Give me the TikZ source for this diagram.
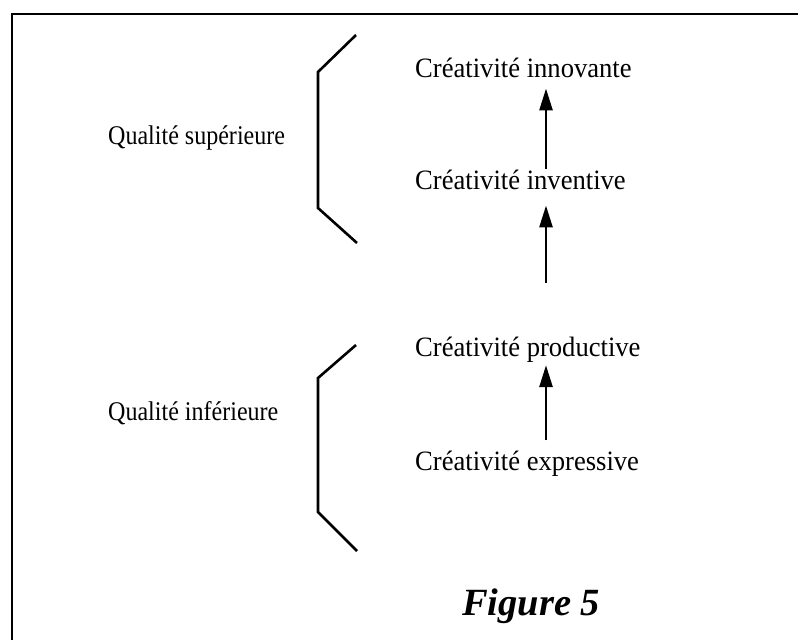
\documentclass[tikz,border=0pt]{standalone}
\usepackage{fontspec}
\setmainfont{Liberation Serif}
\newfontfamily\crfont[FakeStretch=0.95]{Liberation Serif}
\newfontfamily\qfont[FakeStretch=0.89]{Liberation Serif}
\usetikzlibrary{arrows.meta}
\begin{document}
\begin{tikzpicture}[x=1pt,y=-1pt,
  lbl/.style={inner sep=0pt,anchor=base west,font=\crfont\fontsize{28}{30}\selectfont},
  qlbl/.style={inner sep=0pt,anchor=base west,font=\qfont\fontsize{27}{30}\selectfont},
  figlbl/.style={inner sep=0pt,anchor=base west,font=\fontsize{38.5}{42}\selectfont\bfseries\itshape},
  arr/.style={line width=2.7pt,-{Triangle[width=13pt,length=22pt]}},
  brk/.style={line width=2.6pt,line join=miter},
  frm/.style={line width=2.6pt}]
\useasboundingbox (0,0) rectangle (798,640);
% frame (only top and left edges are visible)
\draw[frm] (12,641) -- (12,14) -- (799,14);
% labels
\node[qlbl] (sup) at (108,144) {Qualité supérieure};
\node[qlbl] (inf) at (108,420) {Qualité inférieure};
\node[lbl] (innov) at (415,77) {Créativité innovante};
\node[lbl] (invent) at (415,189) {Créativité inventive};
\node[lbl] (prod) at (415,356) {Créativité productive};
\node[lbl] (expr) at (415,470) {Créativité expressive};
\node[figlbl] (fig) at (462,615) {Figure 5};
% brackets
\draw[brk] (356,35) -- (318,72) -- (318,208) -- (357,243);
\draw[brk] (356,345) -- (318,378) -- (318,512) -- (357,551);
% arrows
\coordinate (ax) at (546,0);
\coordinate (free) at (546,283);
\draw[arr] ([yshift=0pt]invent.north -| ax) -- ([yshift=-11pt]innov.south -| ax);
\draw[arr] (free) -- ([yshift=-16pt]invent.south -| ax);
\draw[arr] ([yshift=10pt]expr.north -| ax) -- ([yshift=-3pt]prod.south -| ax);
\end{tikzpicture}
\end{document}
